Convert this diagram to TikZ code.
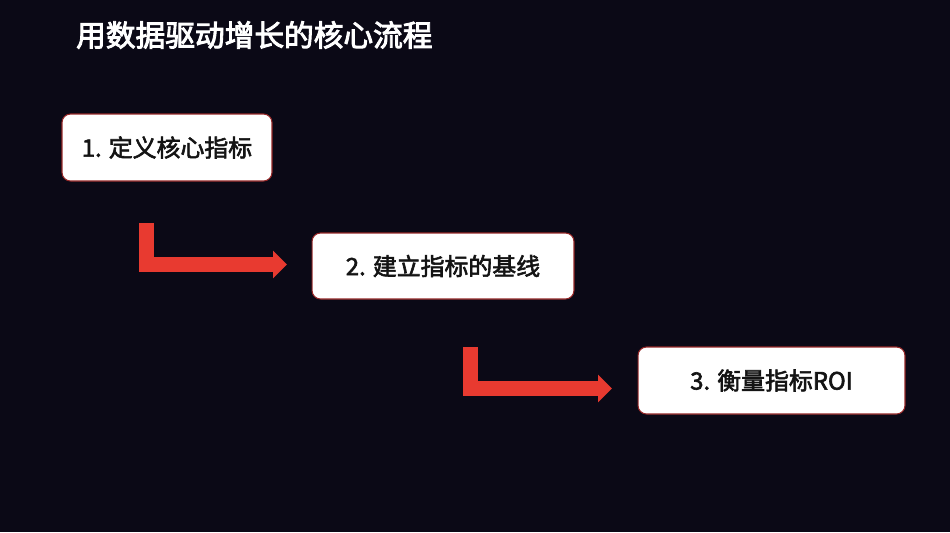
\documentclass[tikz,border=0pt]{standalone}
\usepackage{fontspec}
\setmainfont{Noto Sans CJK SC}
\newfontfamily\titlefont[FakeBold=3]{Noto Sans CJK SC}
\newfontfamily\stepfont[FakeBold=2.5]{Noto Sans CJK SC}
\usepackage{tikz}
\usetikzlibrary{arrows.meta,positioning,calc}
\usepackage{xcolor}
\definecolor{bgdark}{RGB}{11,9,22}
\definecolor{arrowred}{RGB}{232,58,48}
\definecolor{boxline}{RGB}{150,40,40}

\begin{document}
\begin{tikzpicture}[x=0.02cm, y=-0.02cm,
  stepbox/.style={draw=boxline, line width=0.6pt, fill=white, rounded corners=0.17cm, font=\fontsize{13.6}{16}\stepfont, text=black!92, inner sep=0pt},
  flowarrow/.style={draw=arrowred, line width=0.3cm, line join=miter, -{Triangle[length=0.28cm, width=0.54cm]}}]

  % Background
\fill[bgdark] (0,0) rectangle (950,532);
\useasboundingbox (0,0) rectangle (950,532);

  % Define coordinates for nodes
\node[anchor=west, text=white, font=\fontsize{16.9}{20}\titlefont] (title) at (70,35) {用数据驱动增长的核心流程};
\node[stepbox, minimum width=4.2cm, minimum height=1.34cm] (s1) at (167,147.5) {1. 定义核心指标};
\node[stepbox, minimum width=5.24cm, minimum height=1.32cm] (s2) at (443,266) {2. 建立指标的基线};
\node[stepbox, minimum width=5.34cm, minimum height=1.34cm] (s3) at (771.5,380.5) {3. 衡量指标ROI};
\coordinate (a1s) at (146.5,223); \coordinate (a1c) at (146.5,264.5); \coordinate (a1e) at (287,264.5);
\coordinate (a2s) at (470.5,347); \coordinate (a2c) at (470.5,388.5); \coordinate (a2e) at (612,388.5);

  % Draw arrows between steps
\draw[flowarrow] (a1s) |- (a1e); \draw[flowarrow] (a2s) |- (a2e);

\end{tikzpicture}
\end{document}
